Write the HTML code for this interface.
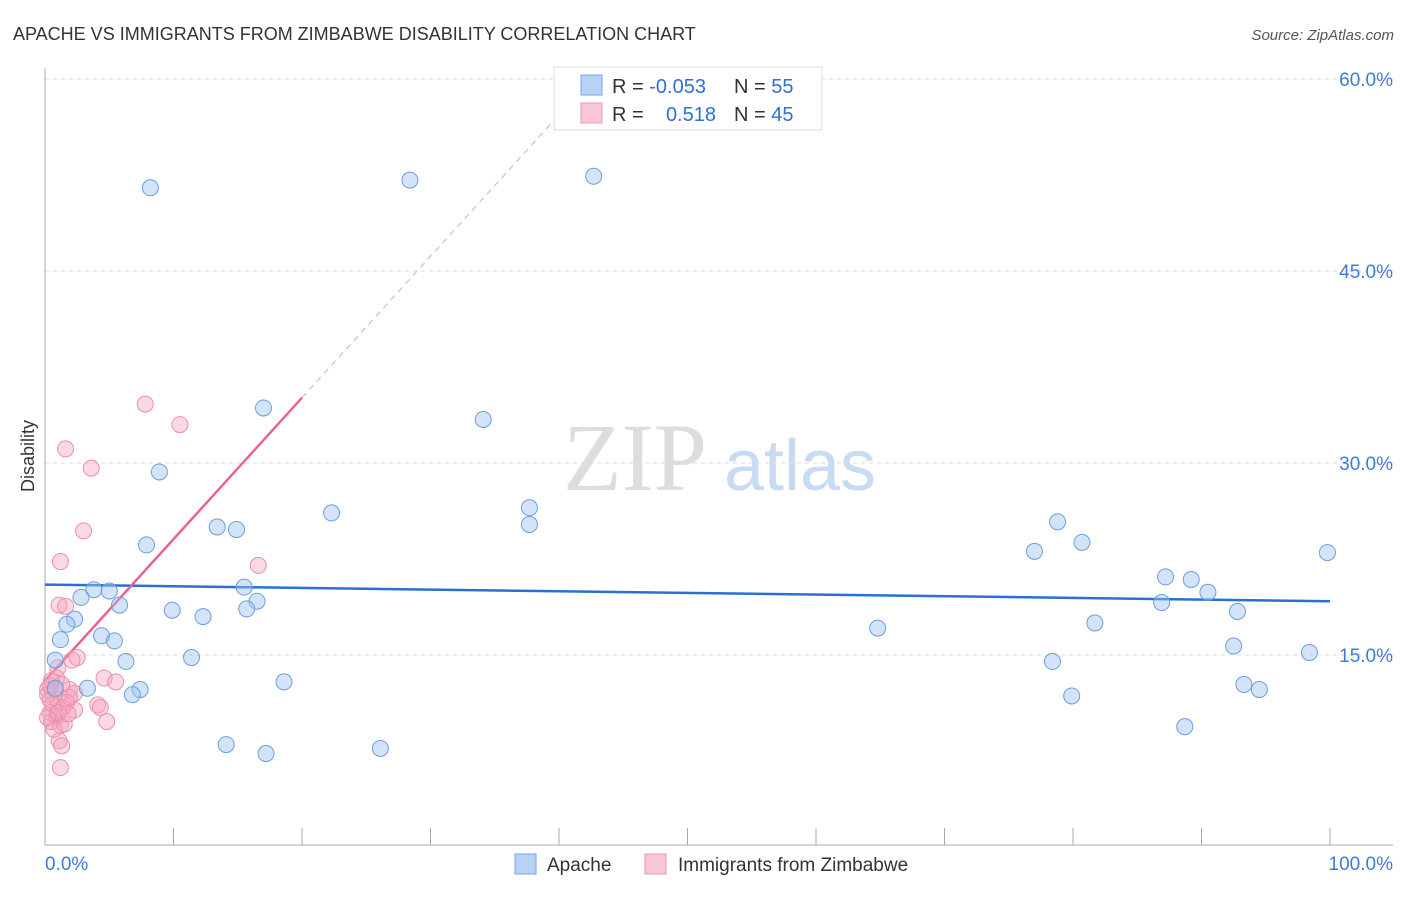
<!DOCTYPE html>
<html><head><meta charset="utf-8"><style>
body{margin:0;background:#fff;font-family:"Liberation Sans",sans-serif;}
</style></head><body>
<svg id="chart" width="1406" height="892" xmlns="http://www.w3.org/2000/svg" font-family="Liberation Sans, sans-serif">
<text x="13" y="40" font-size="18" fill="#333">APACHE VS IMMIGRANTS FROM ZIMBABWE DISABILITY CORRELATION CHART</text>
<text x="1394" y="40" font-size="15" fill="#555" text-anchor="end" font-style="italic">Source: ZipAtlas.com</text>
<g>
<text x="635" y="490" font-size="96" fill="#ddd" font-family="Liberation Serif, serif" text-anchor="middle">ZIP</text>
<text x="800" y="490" font-size="72" fill="#c9daf3" text-anchor="middle">atlas</text>
</g>
<text transform="translate(34,456) rotate(-90)" font-size="18" fill="#333" text-anchor="middle">Disability</text>
<g id="grid"></g><g id="axes"></g><g id="lines"></g><g id="pts"></g>
<g>
<rect x="554" y="67" width="268" height="63" fill="#fff" stroke="#ddd"/>
<rect x="581" y="75" width="21" height="20" fill="#b8d2f5" stroke="#7aa6e6"/>
<rect x="581" y="103" width="21" height="20" fill="#f9c6d4" stroke="#ef9ab2"/>
<text x="612" y="93" font-size="20" fill="#333">R = <tspan fill="#2f6fd6">-0.053</tspan></text>
<text x="734" y="93" font-size="20" fill="#333">N = <tspan fill="#2f6fd6">55</tspan></text>
<text x="612" y="121" font-size="20" fill="#333">R = </text>
<text x="716" y="121" font-size="20" fill="#2f6fd6" text-anchor="end">0.518</text>
<text x="734" y="121" font-size="20" fill="#333">N = <tspan fill="#2f6fd6">45</tspan></text>
</g>
<g>
<rect x="515" y="854" width="21" height="20" fill="#b8d2f5" stroke="#7aa6e6"/>
<text x="547" y="871" font-size="19" fill="#333">Apache</text>
<rect x="645" y="854" width="21" height="20" fill="#f9c6d4" stroke="#ef9ab2"/>
<text x="678" y="871" font-size="19" fill="#333">Immigrants from Zimbabwe</text>
</g>
</svg>
<script>
const yTicks=[15,30,45,60];
const yTickLabels=["15.0%","30.0%","45.0%","60.0%"];
const xTicks=[0,10,20,30,40,50,60,70,80,90,100];
const xEndLabels=["0.0%","100.0%"];
const apacheX=[8.2,28.4,42.7,17.0,34.1,8.9,22.3,37.7,37.7,13.4,14.9,7.9,15.5,16.5,15.7,3.8,5.0,2.8,5.8,9.9,12.3,2.3,1.7,1.2,4.4,5.4,6.3,11.4,0.8,0.8,3.3,7.4,6.8,18.6,14.1,17.2,26.1,64.8,77.0,78.8,80.7,81.7,78.4,79.9,87.2,89.2,90.5,86.9,92.8,92.5,98.4,99.8,93.3,94.5,88.7];
const apacheY=[51.5,52.1,52.4,34.3,33.4,29.3,26.1,26.5,25.2,25.0,24.8,23.6,20.3,19.2,18.6,20.1,20.0,19.5,18.9,18.5,18.0,17.8,17.4,16.2,16.5,16.1,14.5,14.8,14.6,12.4,12.4,12.3,11.9,12.9,8.0,7.3,7.7,17.1,23.1,25.4,23.8,17.5,14.5,11.8,21.1,20.9,19.9,19.1,18.4,15.7,15.2,23.0,12.7,12.3,9.4];
const zimX=[7.8,10.5,1.6,3.6,3.0,1.2,16.6,1.1,1.6,2.5,2.1,1.0,4.6,5.5,0.5,0.2,1.0,1.9,2.3,1.7,4.1,4.3,0.6,0.4,1.4,2.3,0.9,0.5,1.2,4.8,1.5,1.1,1.3,1.2,0.2,0.8,0.4,0.9,0.2,1.9,1.0,0.7,1.3,1.8,0.4];
const zimY=[34.6,33.0,31.1,29.6,24.7,22.3,22.0,18.9,18.8,14.8,14.6,14.0,13.2,12.9,13.0,12.3,11.5,12.3,12.0,11.3,11.1,10.9,11.1,10.5,10.9,10.7,10.2,9.8,9.5,9.8,9.6,8.3,7.9,6.2,11.9,12.3,11.5,13.2,10.1,11.7,10.5,9.2,12.7,10.4,12.6];
const apacheTrend=[20.5,19.2];   // y at x=0, x=100
const zimTrend=[13.0,1.105];     // intercept, slope
const NS="http://www.w3.org/2000/svg";
const X=v=>45+v*12.85, Y=v=>847-v*12.8;
function mk(tag,attrs,parent){const e=document.createElementNS(NS,tag);for(const k in attrs)e.setAttribute(k,attrs[k]);document.getElementById(parent).appendChild(e);return e;}
yTicks.forEach((t,i)=>{
 const l=mk('line',{x1:45,x2:1393,y1:Y(t),y2:Y(t),stroke:'#ddd','stroke-dasharray':'4,4'},'grid');
 
 
 const tx=mk('text',{x:1393,y:Y(t)+7,'font-size':19,fill:'#3d7bd9','text-anchor':'end'},'grid');tx.textContent=yTickLabels[i];
 
 
});
mk('line',{x1:45,x2:45,y1:68,y2:845,stroke:'#aaa'},'axes');
mk('line',{x1:45,x2:1393,y1:845,y2:845,stroke:'#aaa'},'axes');
xTicks.forEach(t=>{const l=mk('line',{x1:X(t),x2:X(t),y1:828,y2:845,stroke:'#aaa'},'axes');
 
 });
let a=mk('text',{x:45,y:870,'font-size':19,fill:'#3d7bd9'},'axes');a.textContent=xEndLabels[0];


a=mk('text',{x:1393,y:870,'font-size':19,fill:'#3d7bd9','text-anchor':'end'},'axes');a.textContent=xEndLabels[1];


zimX.forEach((x,i)=>{const c=mk('circle',{cx:X(x),cy:Y(zimY[i]),r:8,fill:'rgba(246,160,187,0.4)',stroke:'#ec8fac','stroke-width':1},'pts');
 
 });
apacheX.forEach((x,i)=>{const c=mk('circle',{cx:X(x),cy:Y(apacheY[i]),r:8,fill:'rgba(160,196,240,0.45)',stroke:'#6b9de0','stroke-width':1},'pts');
 
 });
let t=mk('line',{x1:X(0),y1:Y(apacheTrend[0]),x2:X(100),y2:Y(apacheTrend[1]),stroke:'#2b6fd3','stroke-width':2.5},'lines');


const xEnd=(61-zimTrend[0])/zimTrend[1];
t=mk('line',{x1:X(20),y1:Y(zimTrend[0]+zimTrend[1]*20),x2:X(xEnd),y2:Y(61),stroke:'#eda2b8','stroke-width':1,'stroke-dasharray':'6,5'},'lines');


t=mk('line',{x1:X(0),y1:Y(zimTrend[0]),x2:X(20),y2:Y(zimTrend[0]+zimTrend[1]*20),stroke:'#e8648f','stroke-width':2.5},'lines');


</script>
</body></html>
